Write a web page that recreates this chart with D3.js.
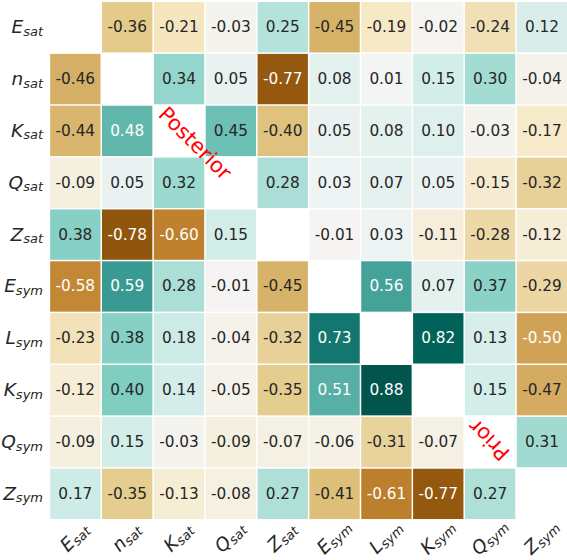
<!DOCTYPE html>
<html>
<head>
<meta charset="utf-8">
<script src="https://cdn.jsdelivr.net/npm/d3@7/dist/d3.min.js"></script>
<style>
  html, body { margin: 0; padding: 0; background: #fff; }
  svg { display: block; }
</style>
</head>
<body>
<svg id="chart" width="567" height="560"></svg>
<script>
// Nuclear-matter parameters: symbol and subscript for each row/column
const symbols    = ["E", "n", "K", "Q", "Z", "E", "L", "K", "Q", "Z"];
const subscripts = ["sat", "sat", "sat", "sat", "sat", "sym", "sym", "sym", "sym", "sym"];

// Correlation coefficients, one row per parameter (diagonal left empty).
// Lower triangle: posterior; upper triangle: prior.
const rowEsat = [null, -0.36, -0.21, -0.03,  0.25, -0.45, -0.19, -0.02, -0.24,  0.12];
const rowNsat = [-0.46, null,  0.34,  0.05, -0.77,  0.08,  0.01,  0.15,  0.30, -0.04];
const rowKsat = [-0.44, 0.48,  null,  0.45, -0.40,  0.05,  0.08,  0.10, -0.03, -0.17];
const rowQsat = [-0.09, 0.05,  0.32,  null,  0.28,  0.03,  0.07,  0.05, -0.15, -0.32];
const rowZsat = [ 0.38,-0.78, -0.60,  0.15,  null, -0.01,  0.03, -0.11, -0.28, -0.12];
const rowEsym = [-0.58, 0.59,  0.28, -0.01, -0.45,  null,  0.56,  0.07,  0.37, -0.29];
const rowLsym = [-0.23, 0.38,  0.18, -0.04, -0.32,  0.73,  null,  0.82,  0.13, -0.50];
const rowKsym = [-0.12, 0.40,  0.14, -0.05, -0.35,  0.51,  0.88,  null,  0.15, -0.47];
const rowQsym = [-0.09, 0.15, -0.03, -0.09, -0.07, -0.06, -0.31, -0.07,  null,  0.31];
const rowZsym = [ 0.17,-0.35, -0.13, -0.08,  0.27, -0.41, -0.61, -0.77,  0.27,  null];
const matrixRows = [rowEsat, rowNsat, rowKsat, rowQsat, rowZsat,
                    rowEsym, rowLsym, rowKsym, rowQsym, rowZsym];

// Triangle captions and their positions in cell units (column, row)
const captionText = ["Posterior", "Prior"];
const captionCol  = [2.81, 8.48];
const captionRow  = [2.74, 8.46];
const captionRot  = [45, -135];

// Diverging brown/blue-green palette (ColorBrewer BrBG, 11 classes)
const brbgStops = ["#543005", "#8c510a", "#bf812d", "#dfc27d", "#f6e8c3", "#f5f5f5",
                   "#c7eae5", "#80cdc1", "#35978f", "#01665e", "#003c30"];

const FONT = "'DejaVu Sans', 'Liberation Sans', sans-serif";
const svg = d3.select("#chart");

const keys = d3.range(symbols.length);
const gridLeft = 49.4, gridTop = 1.3, cell = 51.85;
const x = d3.scaleBand().domain(keys).range([gridLeft, gridLeft + cell * keys.length]).padding(0);
const y = d3.scaleBand().domain(keys).range([gridTop, gridTop + cell * keys.length]).padding(0);

const color = d3.scaleLinear()
  .domain(brbgStops.map((_, i) => -1 + i * 2 / (brbgStops.length - 1)))
  .range(brbgStops)
  .interpolate(d3.interpolateRgb)
  .clamp(true);

// Relative luminance, used to pick dark or white annotation text
function luminance(c) {
  const rgb = d3.rgb(c);
  const lin = v => { v /= 255; return v <= 0.03928 ? v / 12.92 : Math.pow((v + 0.055) / 1.055, 2.4); };
  return 0.2126 * lin(rgb.r) + 0.7152 * lin(rgb.g) + 0.0722 * lin(rgb.b);
}

const cells = [];
matrixRows.forEach((row, r) => row.forEach((v, c) => {
  if (v !== null) cells.push({ r, c, v });
}));

const gap = 1.5;
const g = svg.append("g");
g.selectAll("rect.cell").data(cells).join("rect")
  .attr("class", "cell")
  .attr("x", d => x(d.c) + gap / 2)
  .attr("y", d => y(d.r) + gap / 2)
  .attr("width", x.bandwidth() - gap)
  .attr("height", y.bandwidth() - gap)
  .attr("fill", d => color(d.v));

g.selectAll("text.val").data(cells).join("text")
  .attr("class", "val")
  .attr("x", d => x(d.c) + x.bandwidth() / 2)
  .attr("y", d => y(d.r) + y.bandwidth() / 2)
  .attr("text-anchor", "middle")
  .attr("dominant-baseline", "central")
  .attr("font-family", FONT)
  .attr("font-size", 15.3)
  .attr("fill", d => luminance(color(d.v)) > 0.408 ? "#262626" : "#ffffff")
  .text(d => d.v.toFixed(2));

// Parameter label with italic symbol and subscript
function addLabel(textSel, i) {
  textSel.append("tspan")
    .attr("font-size", 18.5).attr("font-style", "italic")
    .text(symbols[i]);
  textSel.append("tspan")
    .attr("font-size", 13).attr("font-style", "italic")
    .attr("dy", 2.5)
    .text(subscripts[i]);
}

// Row labels on the left
keys.forEach(i => {
  const t = svg.append("text")
    .attr("x", 43)
    .attr("y", y(i) + y.bandwidth() / 2 + 6)
    .attr("text-anchor", "end")
    .attr("font-family", FONT)
    .attr("fill", "#262626");
  addLabel(t, i);
});

// Column labels along the bottom, rotated 45 degrees and centred under each column
const labelCenterY = 538;
keys.forEach(i => {
  const cx = x(i) + x.bandwidth() / 2;
  const t = svg.append("text")
    .attr("transform", `translate(${cx},${labelCenterY}) rotate(-45)`)
    .attr("text-anchor", "middle")
    .attr("y", 5)
    .attr("font-family", FONT)
    .attr("fill", "#262626");
  addLabel(t, i);
});

// Captions marking the two triangles
captionText.forEach((txt, i) => {
  const px = gridLeft + captionCol[i] * cell;
  const py = gridTop + captionRow[i] * cell;
  svg.append("text")
    .attr("transform", `translate(${px},${py}) rotate(${captionRot[i]})`)
    .attr("text-anchor", "middle")
    .attr("dominant-baseline", "central")
    .attr("font-family", FONT)
    .attr("font-size", 21)
    .attr("fill", "#ff0000")
    .text(txt);
});
</script>
</body>
</html>
